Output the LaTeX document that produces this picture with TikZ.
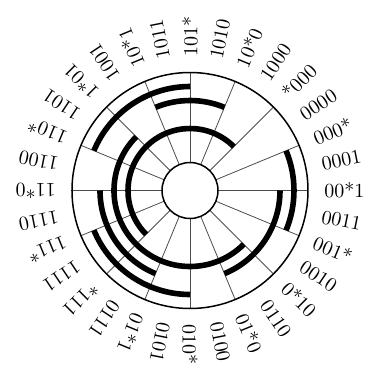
\documentclass[tikz,border=0pt]{standalone}
\usepackage{tikz}
\usetikzlibrary{arrows}

\begin{document}
\begin{tikzpicture}[balken/.style={line width=2.8pt, line cap=butt}, x=0.5pt, y=0.5pt,
				>=latex,   %Voreinstellung
				font=\normalsize]
				%Bildbereich
				\useasboundingbox (-190,-181.5) rectangle (179,190.5);
				%Sektorlinien zeichnen
				\foreach \w in {0,22.5,...,337.5} \draw[black!70, line width=0.4pt] (\w:28) -- (\w:118);
				%Balken zeichnen
				\foreach \a/\b/\r in {45/225/62, 135/315/76, 67.5/112.5/90, 180/247.5/90, 292.5/360/90,
					90/157.5/104, -22.5/22.5/104, 202.5/270/104}
					\draw[balken] (\a:\r) arc[start angle=\a, end angle=\b, radius=\r];
				%Kreise zeichnen
				\draw[line width=0.75pt] (0,0) circle[radius=118];
				\draw[line width=0.75pt, fill=white] (0,0) circle[radius=28];
				%Beschriftung
				\foreach \t [count=\i from 0, evaluate=\i as \w using \i*11.25] in {00*1,0001,000*,0000,*000,1000,10*0,1010,
					101*,1011,10*1,1001,1*01,1101,110*,1100,11*0,1110,111*,1111,*111,0111,01*1,0101,
					010*,0100,01*0,0110,0*10,0010,001*,0011}
					\node[rotate=\w, anchor=west, inner sep=0pt] (l\i) at (\w:134) {\t};
			\end{tikzpicture}
\end{document}
